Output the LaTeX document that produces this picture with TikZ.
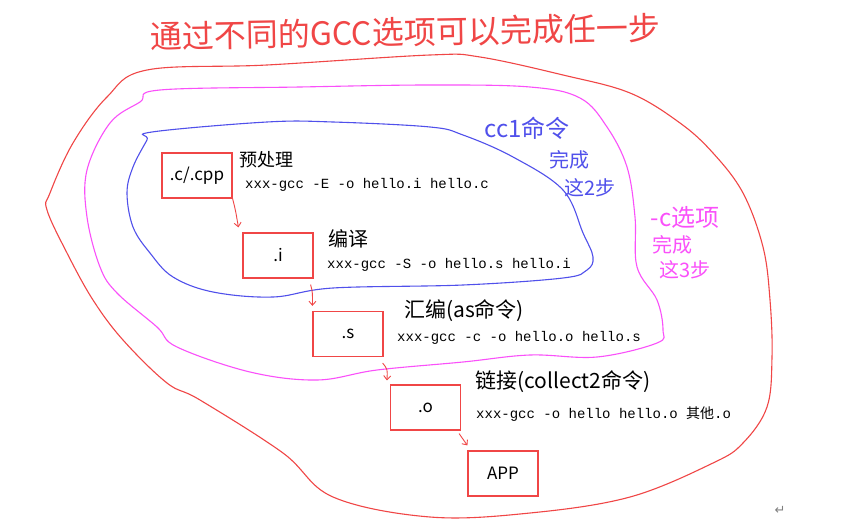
\documentclass[tikz,border=0pt]{standalone}
\usepackage{fontspec}
\setmainfont{Noto Sans CJK SC}
\newfontfamily\mono{Liberation Mono}
\newfontfamily\symf{DejaVu Sans}
\usetikzlibrary{arrows.meta}
\definecolor{hred}{RGB}{240,70,70}
\definecolor{hblue}{RGB}{80,80,235}
\definecolor{hmag}{RGB}{250,80,250}
\tikzset{
  filebox/.style={draw=hred, line width=1.2pt, minimum width=70pt, minimum height=45pt, inner sep=0pt, font=\fontsize{17}{17}\selectfont},
  arr/.style={draw=hred, line width=0.9pt, -{Straight Barb[length=4pt,width=7pt]}},
  steplabel/.style={font=\fontsize{18}{18}\selectfont, inner sep=0pt},
  cmd/.style={font=\mono\fontsize{14}{14}\selectfont, anchor=west, inner sep=0pt},
  loopline/.style={line width=1.1pt},
  note/.style={font=\fontsize{20}{20}\selectfont, inner sep=0pt}
}
\begin{document}
\begin{tikzpicture}[x=1pt,y=-1pt]
\useasboundingbox[fill=white] (0,0) rectangle (858,521);

% enclosing loops
\draw[hred, loopline] plot[smooth cycle, tension=0.6] coordinates {(147,70) (267,65) (430,55) (480,57) (563,75) (630,93) (680,123) (713,153) (743,193) (763,247) (770,300) (772,357) (767,407) (743,443) (713,463) (630,497) (530,513) (430,517) (333,497) (283,453) (200,400) (167,383) (123,340) (93,300) (67,253) (47,210) (50,193) (73,143) (107,97)};
\draw[hmag, loopline] plot[smooth cycle, tension=0.6] coordinates {(160,90) (300,87) (430,85) (530,87) (580,98) (607,127) (627,167) (635,217) (637,267) (657,300) (663,330) (657,343) (597,357) (530,355) (463,362) (377,370) (317,380) (250,372) (177,347) (157,327) (117,293) (100,267) (87,217) (87,170) (110,123) (140,102)};
\draw[hblue, loopline] plot[smooth cycle, tension=0.6] coordinates {(152,132) (267,122) (333,122) (430,127) (463,135) (513,157) (563,190) (583,233) (593,257) (587,270) (563,278) (463,285) (333,288) (273,297) (213,292) (173,277) (150,253) (133,227) (127,193) (133,167) (147,140)};

% title
\node[text=hred, font=\fontsize{32}{32}\selectfont, inner sep=0pt, rotate=1] (title) at (405,32) {通过不同的GCC选项可以完成任一步};

% loop notes
\node[note, text=hblue, font=\fontsize{24}{24}\selectfont] (n1a) at (527,128) {cc1命令};
\node[note, text=hblue] (n1b) at (569,160) {完成};
\node[note, text=hblue] (n1c) at (590,188) {这2步};
\node[note, text=hmag, font=\fontsize{24}{24}\selectfont] (n2a) at (685,217) {-c选项};
\node[note, text=hmag] (n2b) at (672,245) {完成};
\node[note, text=hmag] (n2c) at (685,270) {这3步};

% file boxes
\node[filebox] (b1) at (197,175.5) {.c/.cpp};
\node[filebox] (b2) at (278,255.5) {.i};
\node[filebox] (b3) at (348,334) {.s};
\node[filebox] (b4) at (425.5,407.5) {.o};
\node[filebox] (b5) at (503,473.5) {APP};

% step labels
\node[steplabel] (l1) at (266,160) {预处理};
\node[steplabel, font=\fontsize{20}{20}\selectfont] (l2) at (348,239) {编译};
\node[steplabel, font=\fontsize{21}{21}\selectfont] (l3) at (464,311) {汇编(as命令)};
\node[steplabel, font=\fontsize{21}{21}\selectfont] (l4) at (563,382) {链接(collect2命令)};

% commands
\node[cmd] (c1) at (245,185) {xxx-gcc -E -o hello.i hello.c};
\node[cmd] (c2) at (327,265) {xxx-gcc -S -o hello.s hello.i};
\node[cmd] (c3) at (397,338) {xxx-gcc -c -o hello.o hello.s};
\node[cmd] (c4) at (476,414) {xxx-gcc -o hello hello.o {\fontspec{Noto Sans CJK SC}其他}.o};

% arrows
\draw[arr] (b1.south east) .. controls +(3,12) .. ([xshift=-4pt,yshift=5pt]b2.north west);
\draw[arr] ([xshift=-3pt,yshift=-6pt]b2.south east) .. controls +(2,8) .. ([yshift=5pt]b3.north west);
\draw[arr] ([xshift=-1pt,yshift=-6pt]b3.south east) .. controls +(5,6) .. ([xshift=-3pt,yshift=4pt]b4.north west);
\draw[arr] ([xshift=-2pt,yshift=-3pt]b4.south east) .. controls +(4,6) .. ([yshift=5pt]b5.north west);

% paragraph mark
\node[text=gray, font=\symf\fontsize{13}{13}\selectfont, inner sep=0pt] (pm) at (780,510) {↵};
\end{tikzpicture}
\end{document}
